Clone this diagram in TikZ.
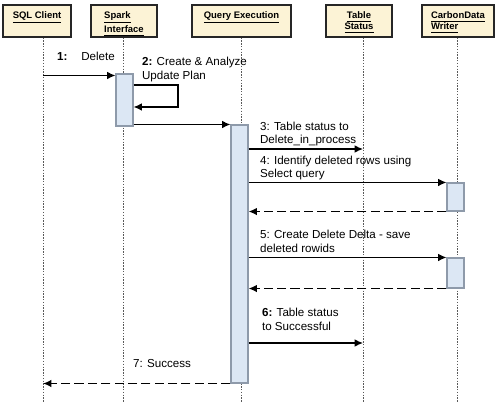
\documentclass[tikz,border=0pt]{standalone}
\usepackage{fontspec}
\setmainfont{Liberation Sans}
\usetikzlibrary{arrows.meta}
\definecolor{headfill}{HTML}{FCF3D6}
\definecolor{actfill}{HTML}{DCE7F4}
\definecolor{actdraw}{HTML}{8E9AAA}

\begin{document}
\begin{tikzpicture}[x=0.02cm,y=-0.02cm,>={Latex[length=4.8pt,width=4.4pt]},every node/.style={inner sep=1pt},
  headbox/.style={draw=black!85,line width=0.7pt,fill=headfill,minimum height=0.64cm},
  headtxt/.style={anchor=north,font=\fontsize{5.4}{6.4}\selectfont\bfseries},
  act/.style={draw=actdraw,line width=0.6pt,fill=actfill,minimum width=0.34cm,inner sep=0pt},
  life/.style={line width=0.5pt,black!65,dash pattern=on 0.8pt off 0.8pt},
  msg/.style={->,line width=0.75pt},
  ret/.style={->,line width=0.95pt,dash pattern=on 5.2pt off 2.4pt},
  lab/.style={anchor=west,align=left,font=\fontsize{6.6}{7.9}\selectfont}]
  \fill[white] (0,0) rectangle (500,411);
  \useasboundingbox (0,0) rectangle (500,411);
  % heads and lifelines
  \foreach \n/\cx/\w/\lx/\al/\txt in {
      sql/37/1.36/43/left/{\underline{SQL Client}},
      spark/124/1.32/123/left/{\underline{Spark}\\\underline{Interface}},
      qe/241.5/1.98/241/left/{\underline{Query Execution}},
      ts/359/1.32/363/center/{\underline{Table}\\\underline{Status}},
      cw/458/1.44/457/left/{\underline{CarbonData}\\\underline{Writer}}}{
    \node[headbox,minimum width=\w cm] (\n) at (\cx,21) {};
    \node[headtxt,align=\al] (\n-t) at ([yshift=-0.1cm]\n.north) {\txt};
    \coordinate (\n-end) at (\lx,402);
    \draw[life] (\n-end |- \n.south) -- (\n-end);
  }
  % activations
  \node[act,minimum height=1.04cm] (sa) at (124.5,100) {};
  \node[act,minimum height=5.16cm] (qa) at (239.5,254) {};
  \node[act,minimum height=0.56cm] (c1) at (455.5,197) {};
  \node[act,minimum height=0.60cm] (c2) at (455.5,273) {};
  % messages
  \node[lab] (m1) at (55,56) {\textbf{1:}\hspace{1.2em}Delete};
  \draw[msg] (sql-end |- 0,75.5) -- (sa.west |- 0,75.5);
  \node[lab] (m2) at (140,69.5) {\textbf{2:} Create \& Analyze\\Update Plan};
  \coordinate (turn) at (178,85);
  \draw[msg] (sa.east |- turn) -- (turn) |- (sa.east |- 0,107);
  \draw[msg] (sa.east |- qa.north) -- (qa.north west);
  \node[lab] (m3) at (258,134) {3: Table status to\\Delete\_in\_process};
  \draw[msg] (qa.east |- 0,149) -- (ts-end |- 0,149);
  \node[lab] (m4) at (258,168) {4: Identify deleted rows using\\Select query};
  \draw[msg] (qa.east |- c1.north) -- (c1.north west);
  \draw[ret] (c1.south west) -- (qa.east |- c1.south);
  \node[lab] (m5) at (258,241) {5: Create Delete Delta - save\\deleted rowids};
  \draw[msg] (qa.east |- c2.north) -- (c2.north west);
  \draw[ret] (c2.south west) -- (qa.east |- c2.south);
  \node[lab] (m6) at (260,319) {\textbf{6:} Table status\\to Successful};
  \draw[msg] (qa.east |- 0,343) -- (ts-end |- 0,343);
  \node[lab,anchor=center] (m7) at (162,364) {7: Success};
  \draw[ret] (qa.south west) -- (sql-end |- qa.south);
\end{tikzpicture}
\end{document}
